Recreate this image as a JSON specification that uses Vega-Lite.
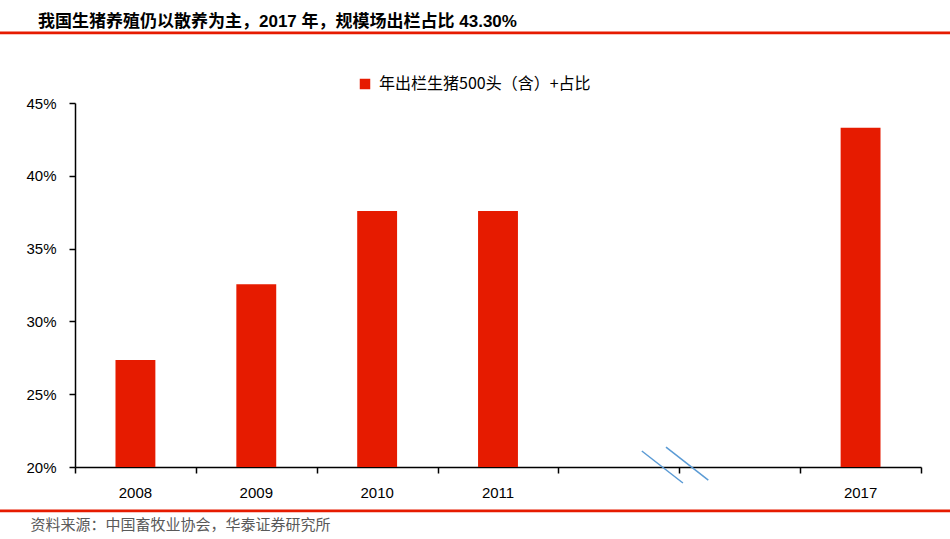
{
  "$schema": "https://vega.github.io/schema/vega-lite/v6.json",
  "width": 846,
  "height": 364,
  "autosize": {"type": "none"},
  "padding": {"left": 75, "top": 103, "right": 29, "bottom": 72},
  "background": "white",
  "title": {
    "text": "我国生猪养殖仍以散养为主，2017 年，规模场出栏占比 43.30%",
    "anchor": "start",
    "frame": "group",
    "dx": -37,
    "offset": -16,
    "baseline": "bottom",
    "font": "Liberation Sans, Noto Sans CJK SC",
    "fontSize": 17,
    "fontWeight": "bold",
    "color": "#000000"
  },
  "config": {
    "view": {"stroke": null}
  },
  "layer": [
    {
      "data": {"values": [
        {"x": 4.69, "x2": 5.03, "y": 0.211, "y2": 0.189},
        {"x": 4.89, "x2": 5.24, "y": 0.2137, "y2": 0.191}
      ]},
      "mark": {"type": "rule", "clip": false, "color": "#5B9BD5", "strokeWidth": 1.5},
      "encoding": {
        "x": {
          "field": "x",
          "type": "quantitative",
          "scale": {"domain": [0, 7], "nice": false, "zero": false},
          "axis": {
            "orient": "bottom",
            "title": null,
            "values": [0, 1, 2, 3, 4, 5, 6, 7],
            "labels": false,
            "grid": false,
            "tickSize": 6,
            "tickWidth": 1.5,
            "tickColor": "#000000",
            "domainColor": "#000000",
            "domainWidth": 1.5
          }
        },
        "x2": {"field": "x2"},
        "y": {"field": "y", "type": "quantitative", "scale": {"domain": [0.2, 0.45], "nice": false, "zero": false}},
        "y2": {"field": "y2"}
      }
    },
    {
      "data": {
        "values": [
          {"year": "2008", "share": 0.2735, "series": "年出栏生猪500头（含）+占比"},
          {"year": "2009", "share": 0.3255, "series": "年出栏生猪500头（含）+占比"},
          {"year": "2010", "share": 0.3758, "series": "年出栏生猪500头（含）+占比"},
          {"year": "2011", "share": 0.3758, "series": "年出栏生猪500头（含）+占比"},
          {"year": "2017", "share": 0.4330, "series": "年出栏生猪500头（含）+占比"}
        ]
      },
      "mark": {"type": "bar", "width": {"band": 0.33}},
      "encoding": {
        "x": {
          "field": "year",
          "type": "nominal",
          "sort": null,
          "scale": {
            "domain": ["2008", "2009", "2010", "2011", " ", "  ", "2017"],
            "padding": 0
          },
          "axis": {
            "orient": "bottom",
            "title": "资料来源：中国畜牧业协会，华泰证券研究所",
            "titleFont": "Noto Sans CJK SC",
            "titleFontSize": 15,
            "titleFontWeight": "normal",
            "titleColor": "#595959",
            "titleAnchor": "start",
            "titleAlign": "left",
            "titleBaseline": "middle",
            "titleX": -45,
            "titleY": 57,
            "labelAngle": 0,
            "labelFont": "Liberation Sans",
            "labelFontSize": 15,
            "labelColor": "#000000",
            "labelPadding": 18,
            "ticks": false,
            "domain": false,
            "grid": false
          }
        },
        "y": {
          "field": "share",
          "type": "quantitative",
          "scale": {"domain": [0.2, 0.45], "nice": false, "zero": false},
          "axis": {
            "title": null,
            "format": ".0%",
            "values": [0.2, 0.25, 0.3, 0.35, 0.4, 0.45],
            "labelFont": "Liberation Sans",
            "labelFontSize": 15,
            "labelColor": "#000000",
            "labelPadding": 13,
            "tickSize": 6,
            "tickColor": "#000000",
            "tickWidth": 1.5,
            "domainColor": "#000000",
            "domainWidth": 1.5,
            "grid": false
          }
        },
        "y2": {"datum": 0.2},
        "color": {
          "field": "series",
          "type": "nominal",
          "scale": {"range": ["#E61B00"]},
          "legend": {
            "title": null,
            "orient": "none",
            "legendX": 282,
            "legendY": -27,
            "symbolType": "square",
            "symbolSize": 110,
            "symbolStrokeWidth": 0,
            "labelFont": "Noto Sans CJK SC",
            "labelFontSize": 16,
            "labelColor": "#000000",
            "labelOffset": 6,
            "labelLimit": 400
          }
        }
      }
    },
    {
      "data": {"values": [
        {"x": -0.63, "x2": 7.25, "y": 0.4981},
        {"x": -0.63, "x2": 7.25, "y": 0.1698}
      ]},
      "mark": {"type": "rule", "clip": false, "color": "#E61B00", "strokeWidth": 2.7},
      "encoding": {
        "x": {"field": "x", "type": "quantitative", "scale": {"domain": [0, 7], "nice": false, "zero": false}, "axis": null},
        "x2": {"field": "x2"},
        "y": {"field": "y", "type": "quantitative", "scale": {"domain": [0.2, 0.45], "nice": false, "zero": false}}
      }
    }
  ],
  "resolve": {"scale": {"x": "independent"}, "axis": {"x": "independent"}}
}
